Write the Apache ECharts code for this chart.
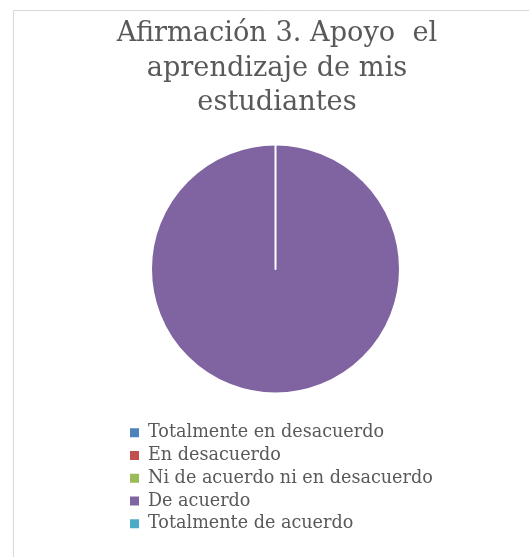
<!DOCTYPE html>
<html>
<head>
<meta charset="utf-8">
<script src="https://cdn.jsdelivr.net/npm/echarts@6/dist/echarts.min.js"></script>
<style>html,body{margin:0;padding:0;background:#fff;}#c{width:529px;height:557px;}</style>
</head>
<body>
<div id="c"></div>
<script>
const titleText = 'Afirmación 3. Apoyo  el\naprendizaje de mis\nestudiantes';
const categories = ['Totalmente en desacuerdo', 'En desacuerdo', 'Ni de acuerdo ni en desacuerdo', 'De acuerdo', 'Totalmente de acuerdo'];
const values = [0, 0, 0, 100, 0];
const colors = ['#4F81BD', '#C0504D', '#9BBB59', '#8064A2', '#4BACC6'];

const chart = echarts.init(document.getElementById('c'), null, {renderer: 'canvas'});
chart.setOption({
  animation: false,
  color: colors,
  graphic: [{
    type: 'rect', left: 11, top: 8,
    shape: {width: 530, height: 560},
    style: {fill: 'none', stroke: '#d9d9d9', lineWidth: 1}
  }],
  title: {
    text: titleText,
    left: 272, top: 12,
    textAlign: 'center',
    textStyle: {fontFamily: 'DejaVu Serif', fontSize: 27.2, fontWeight: 'normal', color: '#595959', lineHeight: 34.5}
  },
  legend: {
    orient: 'vertical', left: 128, top: 421.5, padding: 0,
    icon: 'rect', itemWidth: 11, itemHeight: 11, itemGap: 0,
    data: categories,
    textStyle: {fontFamily: 'DejaVu Serif', fontSize: 17.6, color: '#595959', lineHeight: 22.7, padding: [0, 0, 0, 3]}
  },
  series: [{
    type: 'pie',
    center: [275.5, 269], radius: [0, 124.5],
    startAngle: 90,
    label: {show: false}, labelLine: {show: false},
    stillShowZeroSum: true,
    itemStyle: {borderColor: '#fff', borderWidth: 2},
    data: categories.map((c, i) => ({name: c, value: values[i]}))
  }]
});
</script>
</body>
</html>
